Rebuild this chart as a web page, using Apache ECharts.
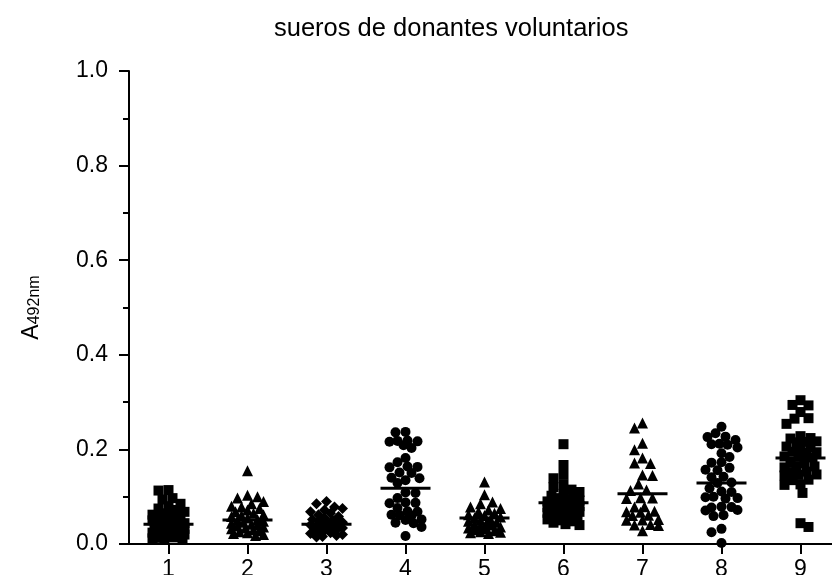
<!DOCTYPE html>
<html>
<head>
<meta charset="utf-8">
<script src="https://cdn.jsdelivr.net/npm/echarts@6/dist/echarts.min.js"></script>
<style>html,body{margin:0;padding:0;background:#fff}#c{width:832px;height:575px}</style>
</head>
<body>
<div id="c"></div>
<script>
// ---- data ----
const titleText = 'sueros de donantes voluntarios';
const categories = ['1','2','3','4','5','6','7','8','9'];
const yTicks = [0, 0.2, 0.4, 0.6, 0.8, 1.0];
const symbols = ['rect','triangle','diamond','circle','triangle','rect','triangle','circle','rect'];

const g1 = [0.114,0.113,0.097,0.094,0.085,0.080,0.075,0.072,0.068,0.065,0.062,0.060,0.058,0.055,0.052,0.050,0.048,0.046,0.044,0.042,0.040,0.038,0.036,0.034,0.032,0.030,0.028,0.026,0.024,0.022,0.020,0.018,0.017,0.016,0.015,0.014,0.013,0.012,0.012,0.011];
const g2 = [0.155,0.103,0.100,0.097,0.090,0.085,0.080,0.078,0.075,0.072,0.068,0.065,0.062,0.060,0.058,0.055,0.052,0.050,0.048,0.046,0.044,0.042,0.040,0.038,0.036,0.034,0.032,0.030,0.028,0.026,0.024,0.022,0.020,0.018];
const g3 = [0.090,0.085,0.078,0.075,0.072,0.068,0.065,0.062,0.058,0.055,0.052,0.050,0.048,0.046,0.044,0.042,0.040,0.038,0.036,0.034,0.032,0.030,0.028,0.026,0.024,0.022,0.020,0.018,0.016,0.015];
const g4 = [0.237,0.236,0.218,0.217,0.219,0.216,0.209,0.203,0.182,0.173,0.163,0.164,0.162,0.150,0.151,0.139,0.140,0.135,0.129,0.108,0.109,0.097,0.087,0.088,0.086,0.076,0.068,0.069,0.061,0.062,0.060,0.051,0.052,0.044,0.045,0.036,0.017];
const g5 = [0.131,0.104,0.089,0.085,0.078,0.075,0.072,0.068,0.065,0.062,0.060,0.057,0.055,0.052,0.050,0.048,0.046,0.044,0.042,0.040,0.038,0.036,0.034,0.032,0.030,0.028,0.026,0.025,0.024,0.022];
const g6 = [0.211,0.167,0.146,0.139,0.125,0.120,0.115,0.110,0.106,0.102,0.100,0.097,0.095,0.092,0.090,0.088,0.086,0.084,0.082,0.080,0.078,0.076,0.074,0.072,0.070,0.068,0.066,0.064,0.062,0.060,0.058,0.055,0.052,0.050,0.048,0.045,0.042,0.040];
const g7 = [0.256,0.245,0.213,0.199,0.182,0.171,0.170,0.146,0.145,0.127,0.114,0.113,0.097,0.098,0.096,0.078,0.079,0.068,0.069,0.067,0.061,0.060,0.051,0.052,0.050,0.040,0.041,0.039,0.028];
const g8 = [0.248,0.234,0.226,0.227,0.220,0.211,0.212,0.210,0.204,0.192,0.184,0.173,0.172,0.161,0.156,0.157,0.142,0.141,0.129,0.130,0.118,0.110,0.111,0.099,0.100,0.097,0.096,0.078,0.079,0.077,0.072,0.071,0.061,0.059,0.032,0.025,0.002];
const g9 = [0.304,0.294,0.293,0.279,0.266,0.265,0.254,0.228,0.224,0.223,0.216,0.217,0.215,0.205,0.206,0.204,0.194,0.195,0.193,0.184,0.185,0.183,0.171,0.172,0.163,0.164,0.162,0.152,0.153,0.146,0.147,0.145,0.135,0.136,0.125,0.126,0.108,0.044,0.036];
const groups = [g1,g2,g3,g4,g5,g6,g7,g8,g9];
const means = [0.042,0.051,0.042,0.118,0.055,0.087,0.106,0.129,0.182];

// ---- layout ----
const GRID = {left:129, top:71, width:711, height:473};
const X_MIN = 0.5, X_MAX = 9.5;
const PX_PER_X = GRID.width / (X_MAX - X_MIN);
const PX_PER_Y = GRID.height / 1.0;
const FONT = 'Liberation Sans, Arial, Helvetica, sans-serif';
const sizeFor = {rect:10, triangle:11, diamond:11, circle:10};
const MAX_OFF = 16;

// simple beeswarm offsets (pixels) so dots spread horizontally like the dot plot
function swarm(vals, size){
  const placed = [], out = new Array(vals.length).fill(0);
  const order = vals.map((v,i)=>i).sort((a,b)=>vals[b]-vals[a]);
  const minD2 = size*size*0.75;
  order.forEach((i, n) => {
    const py = vals[i]*PX_PER_Y;
    let chosen = null, bestScore = -1, bestC = 0;
    for (let k=0; k*2<=MAX_OFF && chosen===null; k++){
      const cands = k===0 ? [0] : (n%2 ? [-k*2, k*2] : [k*2, -k*2]);
      for (const c of cands){
        let dmin = Infinity;
        for (const p of placed){ const d=(p.x-c)*(p.x-c)+(p.y-py)*(p.y-py); if(d<dmin) dmin=d; }
        if (dmin >= minD2) { chosen = c; break; }
        if (dmin > bestScore){ bestScore = dmin; bestC = c; }
      }
    }
    if (chosen===null) chosen = bestC;
    placed.push({x:chosen, y:py});
    out[i] = chosen;
  });
  return out;
}

const series = [];
groups.forEach((vals, gi) => {
  const sym = symbols[gi];
  const sz = sizeFor[sym];
  const offs = swarm(vals, sz);
  series.push({
    type:'scatter', symbol:sym, symbolSize:sz,
    itemStyle:{color:'#000', opacity:1},
    silent:true, z:3,
    data: vals.map((v,i)=>[gi+1 + offs[i]/PX_PER_X, v])
  });
});
series.push({
  type:'scatter', symbol:'rect', symbolSize:[50,3],
  itemStyle:{color:'#000', opacity:1}, silent:true, z:4,
  data: means.map((m,i)=>[i+1, m])
});

const chart = echarts.init(document.getElementById('c'), null, {renderer:'canvas'});
chart.setOption({
  animation:false,
  backgroundColor:'#fff',
  title:{
    text:titleText, left:269, top:11,
    textStyle:{fontFamily:FONT, fontSize:25.5, fontWeight:'normal', color:'#000'}
  },
  grid:{left:GRID.left, top:GRID.top, width:GRID.width, height:GRID.height, containLabel:false, outerBoundsMode:'none'},
  xAxis:{
    type:'value', min:X_MIN, max:X_MAX,
    splitLine:{show:false},
    axisLine:{show:true, lineStyle:{color:'#000', width:2}},
    axisTick:{show:true, length:10, lineStyle:{color:'#000', width:2}, customValues:categories.map(Number)},
    axisLabel:{show:true, margin:14, fontFamily:FONT, fontSize:23, color:'#000',
      customValues:categories.map(Number), formatter:v=>String(v)}
  },
  yAxis:{
    type:'value', min:0, max:1, interval:0.2,
    splitLine:{show:false},
    axisLine:{show:true, lineStyle:{color:'#000', width:2}},
    axisTick:{show:true, length:10, lineStyle:{color:'#000', width:2}},
    minorTick:{show:true, splitNumber:2, length:6, lineStyle:{color:'#000', width:2}},
    axisLabel:{margin:21, fontFamily:FONT, fontSize:23, color:'#000',
      formatter:v=>{ const t = yTicks.find(x=>Math.abs(x-v)<1e-9); return t===undefined?'':t.toFixed(1); }},
    name:'{a|A}{s|492nm}',
    nameLocation:'middle', nameRotate:90, nameGap:86,
    nameTextStyle:{
      fontFamily:FONT, color:'#000',
      rich:{
        a:{fontFamily:FONT, fontSize:23, color:'#000', lineHeight:26, verticalAlign:'bottom'},
        s:{fontFamily:FONT, fontSize:16, color:'#000', lineHeight:26, verticalAlign:'bottom', padding:[9,0,0,0]}
      }
    }
  },
  series: series
});
</script>
</body>
</html>
